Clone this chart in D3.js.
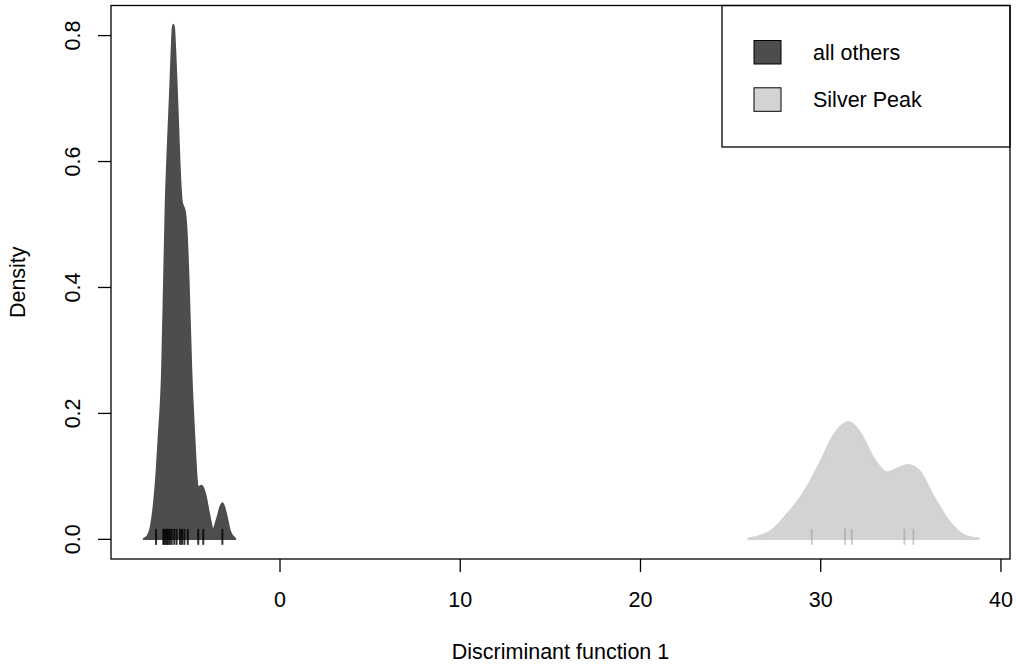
<!DOCTYPE html>
<html>
<head>
<meta charset="utf-8">
<script src="https://cdn.jsdelivr.net/npm/d3@7"></script>
<style>
  body { margin: 0; background: #fff; }
  svg text { font-family: "Liberation Sans", Arial, Helvetica, sans-serif; }
</style>
</head>
<body>
<svg width="1016" height="668"></svg>
<script>
/* density curves */
var othersX = [-7.52, -7.35, -7.13, -6.96, -6.85, -6.69, -6.50, -6.39, -6.30, -6.16, -6.05, -5.97, -5.89,
               -5.80, -5.67, -5.52, -5.44, -5.26, -5.16, -5.06, -4.91, -4.74, -4.59, -4.54, -4.32, -4.13,
               -3.91, -3.69, -3.47, -3.17, -2.97, -2.75, -2.47];
var othersY = [0, 0.003, 0.019, 0.054, 0.089, 0.162, 0.268, 0.411, 0.530, 0.640, 0.715, 0.776, 0.816,
               0.776, 0.681, 0.570, 0.536, 0.519, 0.483, 0.411, 0.268, 0.162, 0.089, 0.081, 0.084, 0.070,
               0.038, 0.013, 0.030, 0.056, 0.038, 0.011, 0];

var silverX = [26.02, 27.22, 28.15, 29.07, 29.99, 30.73, 31.56, 32.21, 32.95, 33.70, 34.25, 34.89,
               35.54, 36.28, 37.21, 37.95, 38.78];
var silverY = [0, 0.011, 0.038, 0.072, 0.120, 0.163, 0.185, 0.168, 0.128, 0.105, 0.111, 0.117,
               0.106, 0.067, 0.025, 0.006, 0];

/* rug positions */
var othersRug = [-6.85, -6.45, -6.39, -6.32, -6.24, -6.17, -6.08, -5.98, -5.84, -5.71, -5.52, -5.41,
                 -5.28, -5.09, -4.51, -4.23, -3.17];
var silverRug = [29.53, 31.38, 31.75, 34.67, 35.17];

var xTicks = [0, 10, 20, 30, 40];
var yTicks = [0, 0.2, 0.4, 0.6, 0.8];

var legendLabels = ["all others", "Silver Peak"];
var legendColors = ["#4d4d4d", "#d3d3d3"];

var svg = d3.select("svg"),
    margin = {top: 5.5, right: 6, bottom: 109, left: 111},
    w = +svg.attr("width") - margin.left - margin.right,
    h = +svg.attr("height") - margin.top - margin.bottom,
    fs = 21.5;

var g = svg.append("g").attr("transform", "translate(" + margin.left + "," + margin.top + ")");

var xScale = d3.scaleLinear().domain([-9.35, 40.53]).range([0, w]);
var yScale = d3.scaleLinear().domain([-0.032, 0.847]).range([h, 0]);

var area = d3.area()
  .x(function(d) { return xScale(d[0]); })
  .y0(yScale(0))
  .y1(function(d) { return yScale(d[1]); })
  .curve(d3.curveMonotoneX);

function drawDensity(xs, ys, col) {
  g.append("path")
    .attr("d", area(d3.zip(xs, ys)))
    .attr("fill", col)
    .attr("stroke", col)
    .attr("stroke-width", 2.5)
    .attr("stroke-linejoin", "round")
    .attr("stroke-linecap", "round");
}

function drawRug(vals, col, lw) {
  g.selectAll(null).data(vals).enter().append("line")
    .attr("x1", function(d) { return xScale(d); })
    .attr("x2", function(d) { return xScale(d); })
    .attr("y1", yScale(0) - 10)
    .attr("y2", yScale(0) + 6)
    .attr("stroke", col)
    .attr("stroke-width", lw);
}

drawDensity(othersX, othersY, legendColors[0]);
drawRug(othersRug, "rgba(0,0,0,0.8)", 2);
drawDensity(silverX, silverY, legendColors[1]);
drawRug(silverRug, "rgba(150,150,150,0.5)", 1.8);

// axes
var xAxis = g.append("g")
  .attr("transform", "translate(0," + h + ")")
  .call(d3.axisBottom(xScale).tickValues(xTicks).tickSize(13).tickPadding(20).tickFormat(d3.format("d")));
xAxis.select(".domain").remove();
xAxis.selectAll("line").attr("stroke", "#000").attr("stroke-width", 1.3);
xAxis.selectAll("text").attr("font-size", fs).attr("fill", "#000");

var yAxis = g.append("g")
  .call(d3.axisLeft(yScale).tickValues(yTicks).tickSize(13).tickFormat(d3.format(".1f")));
yAxis.select(".domain").remove();
yAxis.selectAll("line").attr("stroke", "#000").attr("stroke-width", 1.3);
yAxis.selectAll("text")
  .attr("font-size", fs).attr("fill", "#000")
  .attr("transform", "rotate(-90)")
  .attr("x", 0).attr("y", -31).attr("dy", 0)
  .attr("text-anchor", "middle");

// frame
g.append("rect")
  .attr("width", w).attr("height", h)
  .attr("fill", "none").attr("stroke", "#000").attr("stroke-width", 1.3);

// axis titles
svg.append("text")
  .attr("x", margin.left + w / 2).attr("y", 659)
  .attr("text-anchor", "middle").attr("font-size", fs)
  .text("Discriminant function 1");

svg.append("text")
  .attr("transform", "translate(25," + (margin.top + h / 2) + ") rotate(-90)")
  .attr("text-anchor", "middle").attr("font-size", fs)
  .text("Density");

// legend
var lg = g.append("g").attr("transform", "translate(" + (722 - margin.left) + ",0)");
lg.append("rect")
  .attr("width", w - (722 - margin.left)).attr("height", 147 - margin.top)
  .attr("fill", "none").attr("stroke", "#000").attr("stroke-width", 1.3);

var items = lg.selectAll(".item").data(legendLabels).enter().append("g")
  .attr("transform", function(d, i) { return "translate(0," + (47 + i * 47.3) + ")"; });
items.append("rect")
  .attr("x", 32).attr("y", -12).attr("width", 27).attr("height", 23.5)
  .attr("fill", function(d, i) { return legendColors[i]; })
  .attr("stroke", "#000").attr("stroke-width", 1);
items.append("text")
  .attr("x", 91).attr("y", 7.5)
  .attr("font-size", fs)
  .text(function(d) { return d; });
</script>
</body>
</html>
